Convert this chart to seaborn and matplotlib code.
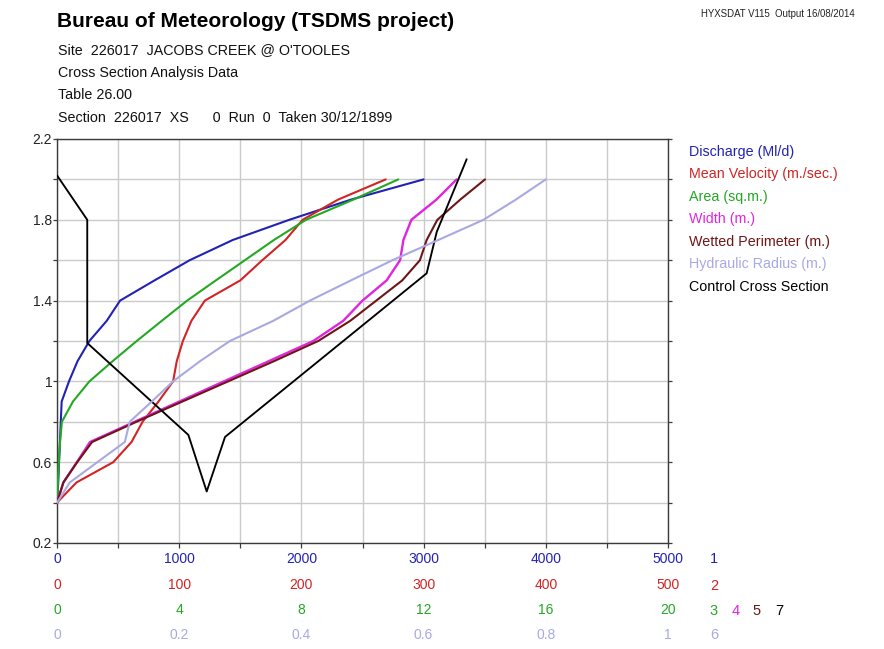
import matplotlib
matplotlib.use("Agg")
import matplotlib.pyplot as plt
from matplotlib.ticker import FixedLocator, FixedFormatter
import seaborn as sns
import pandas as pd

# Stage (m) at which the hydraulic properties were tabulated
stage = [0.4, 0.5, 0.6, 0.7, 0.8, 0.9, 1.0, 1.1, 1.2, 1.3, 1.4, 1.5, 1.6, 1.7, 1.8, 1.9, 2.0]
discharge = [0, 10, 17, 24, 31, 38, 98, 168, 265, 407, 516, 798, 1086, 1438, 1901, 2406, 3000]   # Ml/d
velocity = [0, 16, 46, 61, 70, 83, 95, 98, 103, 110, 121, 150, 168, 187, 201, 230, 269]          # scale 1/100
area = [0, 0.03, 0.06, 0.10, 0.16, 0.52, 1.06, 1.82, 2.61, 3.43, 4.26, 5.2, 6.15, 7.1, 8.15, 9.7, 11.17]
width = [0, 0.21, 0.65, 1.08, 2.54, 4.0, 5.46, 6.93, 8.39, 9.37, 10.0, 10.79, 11.23, 11.34, 11.6, 12.42, 13.08]
perimeter = [0, 0.21, 0.66, 1.15, 2.6, 4.1, 5.6, 7.1, 8.55, 9.6, 10.45, 11.3, 11.88, 12.1, 12.45, 13.2, 14.01]
radius = [0, 0.021, 0.066, 0.111, 0.119, 0.155, 0.19, 0.234, 0.283, 0.354, 0.414, 0.481, 0.549, 0.624, 0.698, 0.751, 0.80]

# Control cross section: chainage (m) and bed level (m)
xs_chainage = [0, 0.99, 0.99, 4.30, 4.90, 5.50, 12.10, 12.43, 13.41]
xs_level = [2.02, 1.80, 1.19, 0.735, 0.455, 0.725, 1.535, 1.74, 2.10]

# Tick labels for the stacked horizontal scales
q_ticks = [0, 1000, 2000, 3000, 4000, 5000]
v_ticks = [0, 100, 200, 300, 400, 500]
a_ticks = [0, 4, 8, 12, 16, 20]
r_ticks = [0, 0.2, 0.4, 0.6, 0.8, 1]
r_labels = ["0", "0.2", "0.4", "0.6", "0.8", "1"]
y_ticks = [0.2, 0.4, 0.6, 0.8, 1.0, 1.2, 1.4, 1.6, 1.8, 2.0, 2.2]
y_labels = ["0.2", "", "0.6", "", "1", "", "1.4", "", "1.8", "", "2.2"]

legend_names = ["Discharge (Ml/d)", "Mean Velocity (m./sec.)", "Area (sq.m.)", "Width (m.)",
                "Wetted Perimeter (m.)", "Hydraulic Radius (m.)", "Control Cross Section"]

C_Q = "#2222b4"
C_V = "#d22424"
C_A = "#24a824"
C_W = "#e024e0"
C_P = "#6e1616"
C_R = "#a9a9e2"
C_X = "#000000"
legend_colors = [C_Q, C_V, C_A, C_W, C_P, C_R, C_X]

hyd = pd.DataFrame({"stage": stage, "discharge": discharge, "velocity": velocity,
                    "area": area, "width": width, "perimeter": perimeter, "radius": radius})
xs = pd.DataFrame({"chainage": xs_chainage, "level": xs_level})

sns.set_theme(style="ticks")
plt.rcParams["font.family"] = ["Liberation Sans", "DejaVu Sans"]

W, H = 884, 649
fig = plt.figure(figsize=(W / 100, H / 100), dpi=100)
fig.patch.set_facecolor("white")
ax = fig.add_axes([57 / W, 1 - 543 / H, 611 / W, 404 / H])

SPINE = "#3c3c3c"
TICK_LEN = 3.6
TICK_PAD = 2.8
LBL = 10

ax.set_xlim(0, 5000)
ax.set_ylim(0.2, 2.2)
ax.xaxis.set_major_locator(FixedLocator(list(range(0, 5001, 500))))
ax.xaxis.set_major_formatter(FixedFormatter([str(v) if v % 1000 == 0 else "" for v in range(0, 5001, 500)]))
ax.yaxis.set_major_locator(FixedLocator(y_ticks))
ax.yaxis.set_major_formatter(FixedFormatter(y_labels))
ax.grid(True, color="#cbcbcb", lw=1.0)
for s in ax.spines.values():
    s.set_color(SPINE)
    s.set_linewidth(1.0)
ax.tick_params(axis="x", direction="out", length=TICK_LEN, width=0.9, color=SPINE,
               pad=TICK_PAD, labelsize=LBL, labelcolor=C_Q, top=True, bottom=True)
ax.tick_params(axis="y", direction="out", length=2.9, width=0.9, color=SPINE,
               pad=0.6, labelsize=LBL, labelcolor="#222222", left=True, right=True)

sns.lineplot(data=hyd, x="discharge", y="stage", ax=ax, color=C_Q, lw=1.5, sort=False, estimator=None)


def scale_axis(xmax, ticks, labels, color, offset_pt):
    tw = ax.twiny()
    tw.set_xlim(0, xmax)
    tw.xaxis.set_ticks_position("bottom")
    tw.xaxis.set_label_position("bottom")
    tw.spines["bottom"].set_position(("outward", offset_pt))
    for s in tw.spines.values():
        s.set_visible(False)
    tw.set_xticks(ticks)
    tw.set_xticklabels(labels)
    tw.tick_params(axis="x", length=0, pad=TICK_LEN + TICK_PAD, labelsize=LBL, labelcolor=color)
    return tw


ax_v = scale_axis(500, v_ticks, [str(t) for t in v_ticks], C_V, 19.0)
ax_a = scale_axis(20, a_ticks, [str(t) for t in a_ticks], C_A, 37.0)
ax_r = scale_axis(1, r_ticks, r_labels, C_R, 54.6)

sns.lineplot(data=hyd, x="velocity", y="stage", ax=ax_v, color=C_V, lw=1.5, sort=False, estimator=None)
sns.lineplot(data=hyd, x="area", y="stage", ax=ax_a, color=C_A, lw=1.5, sort=False, estimator=None)
sns.lineplot(data=hyd, x="width", y="stage", ax=ax_a, color=C_W, lw=1.7, sort=False, estimator=None)
sns.lineplot(data=hyd, x="perimeter", y="stage", ax=ax_a, color=C_P, lw=1.5, sort=False, estimator=None)
sns.lineplot(data=hyd, x="radius", y="stage", ax=ax_r, color=C_R, lw=1.5, sort=False, estimator=None)
sns.lineplot(data=xs, x="chainage", y="level", ax=ax_a, color=C_X, lw=1.35, sort=False, estimator=None)

for a in (ax, ax_v, ax_a, ax_r):
    a.set_xlabel("")
    a.set_ylabel("")
ax_v.set_xlim(0, 500)
ax_a.set_xlim(0, 20)
ax_r.set_xlim(0, 1)
ax.set_ylim(0.2, 2.2)

# Scale numbers beside each row of tick labels
row_marks = [("1", 714, 559, C_Q), ("2", 714, 586, C_V), ("3", 714, 611, C_A), ("4", 736, 611, C_W),
             ("5", 757, 611, C_P), ("7", 779, 611, C_X), ("6", 714, 635, C_R)]
for txt, px, py, col in row_marks:
    fig.text(px / W, 1 - py / H, txt, ha="center", va="center", color=col, fontsize=10.5)

# Headings
fig.text(57 / W, 1 - 26.7 / H, "Bureau of Meteorology (TSDMS project)", fontsize=15,
         fontweight="bold", color="#000000", va="baseline", ha="left")
sub_lines = ["Site  226017  JACOBS CREEK @ O'TOOLES", "Cross Section Analysis Data", "Table 26.00",
             "Section  226017  XS      0  Run  0  Taken 30/12/1899"]
for i, line in enumerate(sub_lines):
    fig.text(58 / W, 1 - (54.3 + 22.5 * i) / H, line, fontsize=10.3, color="#111111",
             va="baseline", ha="left")
fig.text(855 / W, 1 - 16.7 / H, "HYXSDAT V115  Output 16/08/2014", fontsize=6.9,
         color="#222222", va="baseline", ha="right")

# Series key
for i, (name, col) in enumerate(zip(legend_names, legend_colors)):
    fig.text(689 / W, 1 - (155.7 + 22.55 * i) / H, name, fontsize=10.3, color=col,
             va="baseline", ha="left")

fig.savefig("out.png", dpi=100)
